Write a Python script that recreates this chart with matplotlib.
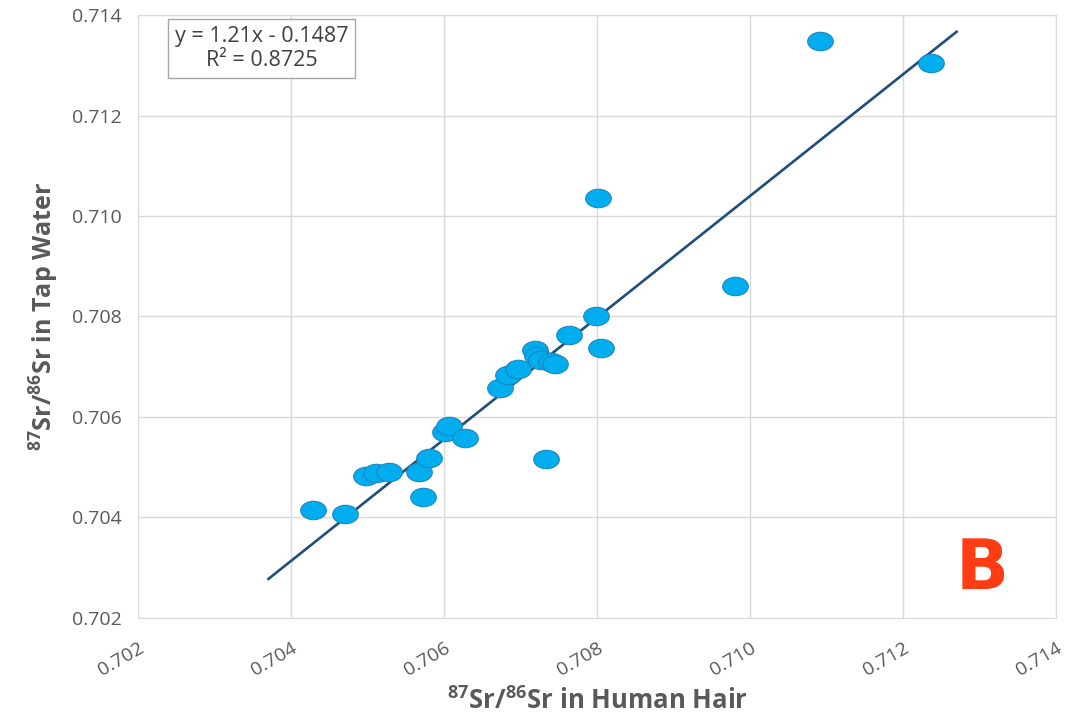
import matplotlib
matplotlib.use("Agg")
import matplotlib.pyplot as plt
import numpy as np
from matplotlib.path import Path

# 87Sr/86Sr values
hair = [0.70428, 0.70470, 0.70497, 0.70511, 0.70527, 0.70567, 0.70580, 0.70572,
        0.70601, 0.70606, 0.70627, 0.70673, 0.70683, 0.70697, 0.70718, 0.70721,
        0.70727, 0.70739, 0.70745, 0.70733, 0.70763, 0.70798, 0.70805, 0.70801,
        0.70980, 0.71091, 0.71237]
tap = [0.70415, 0.70407, 0.70483, 0.70489, 0.70491, 0.70491, 0.70518, 0.70441,
       0.70570, 0.70582, 0.70558, 0.70658, 0.70684, 0.70696, 0.70733, 0.70721,
       0.70713, 0.70709, 0.70705, 0.70516, 0.70763, 0.70801, 0.70737, 0.71036,
       0.70861, 0.71348, 0.71304]

slope, intercept = 1.21, -0.1487
line_x = np.array([0.7037, 0.7127])

ticks = [0.702, 0.704, 0.706, 0.708, 0.710, 0.712, 0.714]
tick_labels = ["0.702", "0.704", "0.706", "0.708", "0.710", "0.712", "0.714"]

plt.rcParams['font.family'] = ['Open Sans', 'DejaVu Sans']
plt.rcParams['mathtext.default'] = 'regular'
grey = "#595959"

fig = plt.figure(figsize=(10.76, 7.16), dpi=100)
ax = fig.add_axes([0.1287, 0.137, 0.8527, 0.842])

# ellipse marker, wider than tall
circ = Path.unit_circle()
ellipse = Path(circ.vertices * np.array([1.0, 0.72]), circ.codes)

ax.plot(line_x, slope * line_x + intercept, color="#1F4E79", lw=1.9, zorder=2)
ax.scatter(hair, tap, marker=ellipse, s=340, facecolor="#00AEEF",
           edgecolor="#1C86C0", linewidth=0.8, zorder=3)

ax.set_xlim(0.702, 0.714)
ax.set_ylim(0.702, 0.714)
ax.set_xticks(ticks)
ax.set_yticks(ticks)
ax.set_xticklabels(tick_labels, rotation=30, ha="right", rotation_mode="anchor")
ax.set_yticklabels(tick_labels)
ax.tick_params(length=0, labelsize=14, labelcolor=grey)
ax.tick_params(axis="x", pad=15)
ax.tick_params(axis="y", pad=12)
ax.grid(True, color="#d9d9d9", lw=1)
ax.set_axisbelow(True)
for sp in ax.spines.values():
    sp.set_color("#d9d9d9")

ax.set_xlabel("$^{87}$Sr/$^{86}$Sr in Human Hair", fontsize=18.5, fontweight="bold",
              color=grey, labelpad=6)
ax.set_ylabel("$^{87}$Sr/$^{86}$Sr in Tap Water", fontsize=18, fontweight="bold",
              color=grey, labelpad=8)

ax.text(0.134, 0.982, "y = 1.21x - 0.1487\nR² = 0.8725", transform=ax.transAxes,
        ha="center", va="top", fontsize=15.5, color="#404040", linespacing=1.2,
        bbox=dict(boxstyle="square,pad=0.3", facecolor="white", edgecolor="#a6a6a6"))

ax.text(0.92, 0.08, "B", transform=ax.transAxes, ha="center", va="center",
        fontsize=50, fontweight="bold", color="#FF3C14", family="DejaVu Sans")

fig.savefig("out.png", dpi=100)
plt.close(fig)
